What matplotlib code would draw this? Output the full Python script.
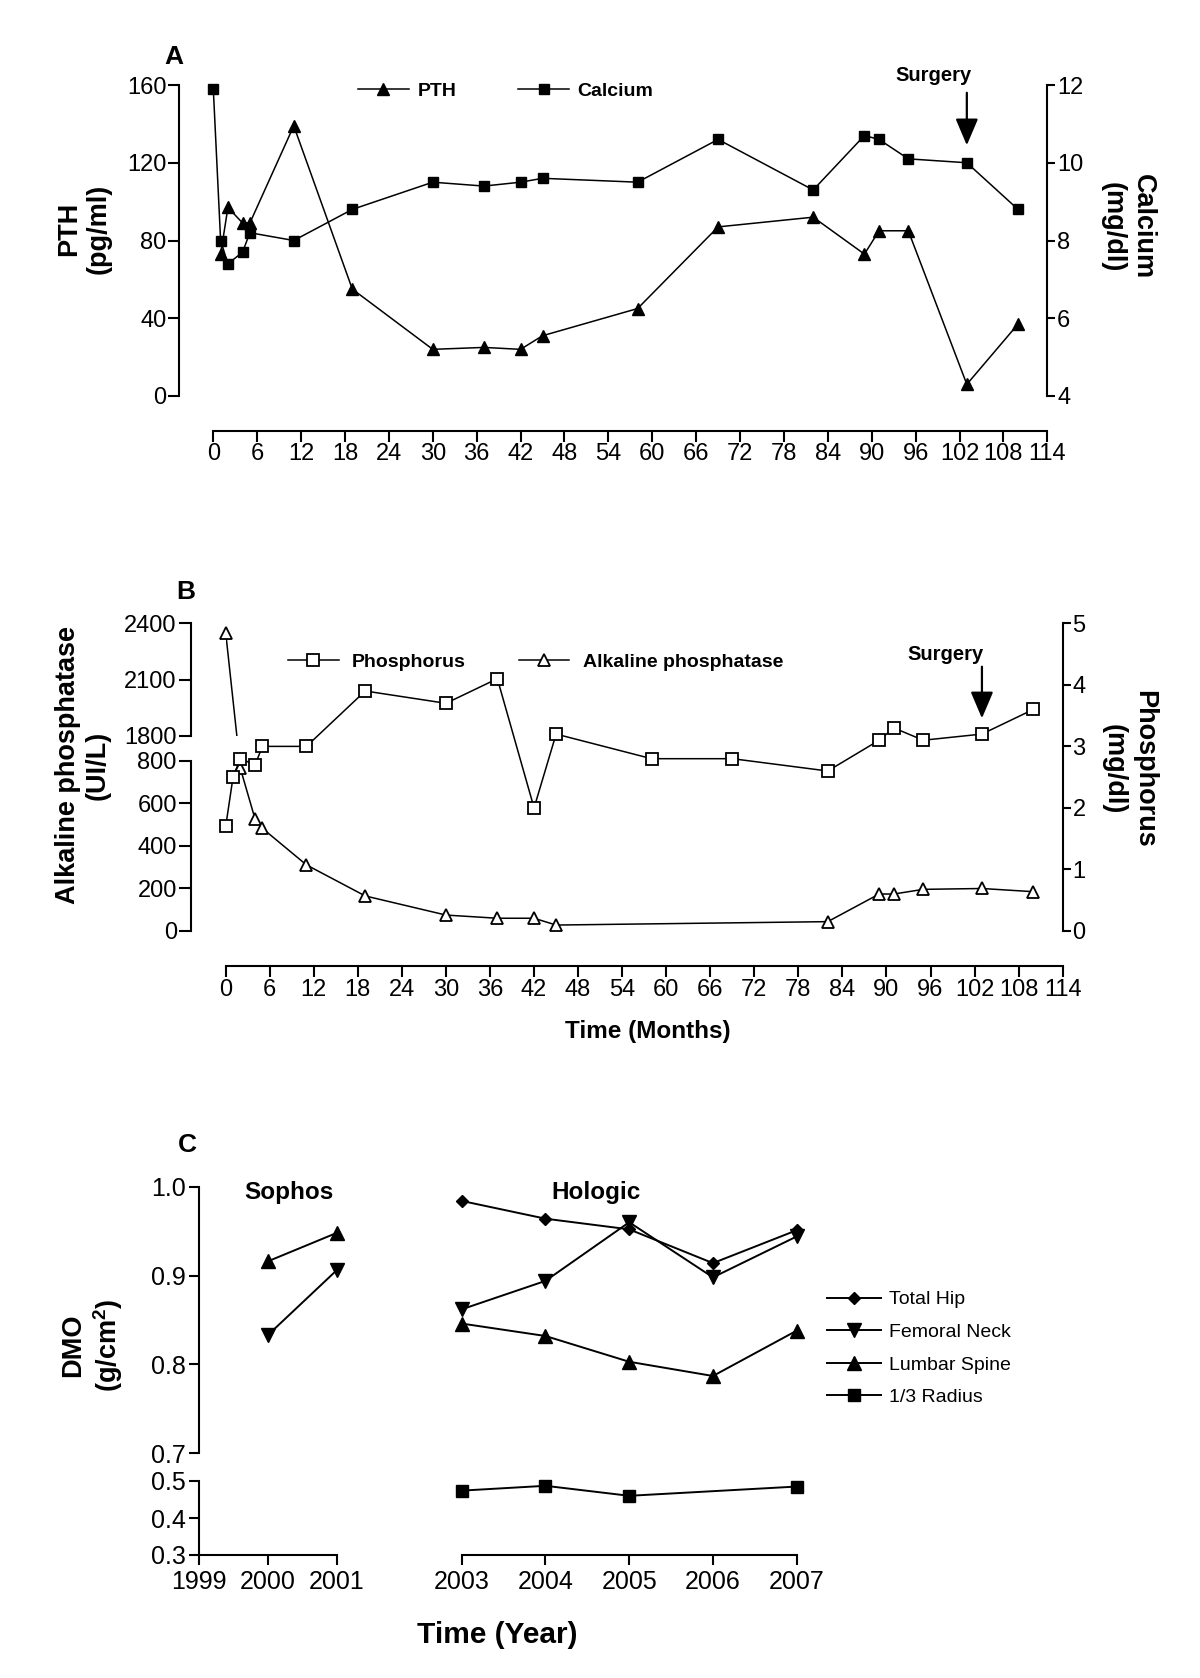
import matplotlib
matplotlib.use('Agg')
import matplotlib.pyplot as plt
from matplotlib.ticker import FormatStrFormatter

plt.rcParams['font.family'] = ['Liberation Sans', 'DejaVu Sans']
plt.rcParams['mathtext.fontset'] = 'custom'
plt.rcParams['mathtext.rm'] = 'Liberation Sans'
plt.rcParams['mathtext.bf'] = 'Liberation Sans:bold'

# Panel A data ------------------------------------------------------------
months_pth = [1, 2, 4, 5, 11, 19, 30, 37, 42, 45, 58, 69, 82, 89, 91, 95, 103, 110]
pth = [73, 97, 89, 89, 139, 55, 24, 25, 24, 31, 45, 87, 92, 73, 85, 85, 6, 37]
months_ca = [0, 1, 2, 4, 5, 11, 19, 30, 37, 42, 45, 58, 69, 82, 89, 91, 95, 103, 110]
calcium = [11.9, 8.0, 7.4, 7.7, 8.2, 8.0, 8.8, 9.5, 9.4, 9.5, 9.6, 9.5,
           10.6, 9.3, 10.7, 10.6, 10.1, 10.0, 8.8]

# Panel B data ------------------------------------------------------------
months_p = [0, 1, 2, 4, 5, 11, 19, 30, 37, 42, 45, 58, 69, 82, 89, 91, 95, 103, 110]
phosphorus = [1.7, 2.5, 2.8, 2.7, 3.0, 3.0, 3.9, 3.7, 4.1, 2.0, 3.2, 2.8,
              2.8, 2.6, 3.1, 3.3, 3.1, 3.2, 3.6]
months_alp = [0, 2, 4, 5, 11, 19, 30, 37, 42, 45, 82, 89, 91, 95, 103, 110]
alp = [2350, 765, 527, 483, 311, 165, 75, 60, 60, 28, 44, 174, 174, 196, 200, 185]

surgery_month = 103
month_ticks = list(range(0, 115, 6))

# Panel C data ------------------------------------------------------------
years_sophos = [2000, 2001]
sophos_lumbar = [0.916, 0.948]
sophos_femoral = [0.833, 0.906]
years_hologic = [2003, 2004, 2005, 2006, 2007]
total_hip = [0.984, 0.964, 0.952, 0.914, 0.951]
femoral_neck = [0.862, 0.894, 0.960, 0.898, 0.944]
lumbar_spine = [0.846, 0.832, 0.803, 0.787, 0.838]
years_radius = [2003, 2004, 2005, 2007]
radius = [0.474, 0.487, 0.460, 0.485]

W, H = 1200, 1678
fig = plt.figure(figsize=(W / 100, H / 100), dpi=100)


def box(x0, y0, x1, y1):
    # pixel box (top-left origin) -> figure fraction rect
    return [x0 / W, 1 - y1 / H, (x1 - x0) / W, (y1 - y0) / H]


def only(ax, *names):
    for k, s in ax.spines.items():
        s.set_visible(k in names)
        s.set_linewidth(1.5)


LW = 1.1
TICK = 17
tick_kw = dict(direction='out', width=1.5, colors='k')

# ---------------------------------------------------------------- Panel A
axA = fig.add_axes(box(213.3, 85, 1047.3, 396))
axA.plot(months_pth, pth, color='k', lw=LW, marker='^', ms=8.5, clip_on=False,
         label='PTH')
axA.set_xlim(0, 114)
axA.set_ylim(0, 160)
axA.set_xticks(month_ticks)
axA.set_yticks([0, 40, 80, 120, 160])
only(axA, 'left', 'bottom')
axA.spines['left'].set_position(('outward', 24.5))
axA.spines['bottom'].set_position(('outward', 25))
axA.tick_params(axis='both', length=8, labelsize=TICK, pad=1.2, **tick_kw)

axA2 = axA.twinx()
axA2.plot(months_ca, calcium, color='k', lw=LW, marker='s', ms=7.5, clip_on=False,
          label='Calcium')
axA2.set_ylim(4, 12)
axA2.set_yticks([4, 6, 8, 10, 12])
only(axA2, 'right')
axA2.tick_params(axis='y', length=6, labelsize=TICK, pad=1, **tick_kw)

hA = [axA.get_lines()[0], axA2.get_lines()[0]]
fig.legend(hA, [h.get_label() for h in hA], loc='center left',
           bbox_to_anchor=(358 / W, 1 - 90.7 / H), ncol=2, frameon=False,
           prop=dict(weight='bold', size=14), handlelength=2.6, handletextpad=0.45,
           columnspacing=3.2, borderpad=0, borderaxespad=0)

arrow_kw = dict(arrowstyle='-|>,head_length=0.4,head_width=0.17', mutation_scale=41,
                lw=1.6, color='k', shrinkA=0, shrinkB=0)
axA.annotate('', xy=(surgery_month, 129), xytext=(surgery_month, 156),
             arrowprops=arrow_kw, annotation_clip=False)
axA.text(98.4, 165, 'Surgery', ha='center', va='center', weight='bold',
         fontsize=14.5, clip_on=False)

fig.text(84 / W, 1 - 229 / H, 'PTH\n(pg/ml)', rotation=90, ha='center', va='center',
         fontsize=19.5, weight='bold', multialignment='center')
fig.text(1128 / W, 1 - 227 / H, 'Calcium\n(mg/dl)', rotation=270, ha='center',
         va='center', fontsize=19.5, weight='bold', multialignment='center')
fig.text(174 / W, 1 - 57.5 / H, 'A', ha='center', va='center', fontsize=19,
         weight='bold')

# ---------------------------------------------------------------- Panel B
axLow = fig.add_axes(box(225.7, 761, 1062.7, 931))
axHigh = fig.add_axes(box(225.7, 623.3, 1062.7, 735.7))
for ax, lim, ticks in [(axLow, (0, 800), [0, 200, 400, 600, 800]),
                       (axHigh, (1800, 2400), [1800, 2100, 2400])]:
    ax.set_xlim(0, 114)
    ax.set_ylim(*lim)
    ax.set_yticks(ticks)
    ax.set_xticks([])
    ax.patch.set_visible(False)
    only(ax, 'left')
    ax.spines['left'].set_position(('outward', 25))
    ax.tick_params(axis='y', length=9, labelsize=TICK, pad=1.2, **tick_kw)


def remap(src, dst, x, y):
    return dst.transData.inverted().transform(src.transData.transform((x, y)))


# the first alkaline phosphatase value sits on the upper segment of the broken axis
x1, y1 = remap(axLow, axHigh, months_alp[1], alp[1])
axHigh.plot([months_alp[0], x1], [alp[0], y1], color='k', lw=LW)
axHigh.plot(months_alp[:1], alp[:1], ls='none', marker='^', ms=8.5, mfc='white',
            mec='k', mew=1.3, clip_on=False)
x0, y0 = remap(axHigh, axLow, months_alp[0], alp[0])
axLow.plot([x0] + months_alp[1:], [y0] + alp[1:], color='k', lw=LW)
axLow.plot(months_alp[1:], alp[1:], ls='none', marker='^', ms=8.5, mfc='white',
           mec='k', mew=1.3, clip_on=False)
alp_handle = plt.Line2D([], [], color='k', lw=LW, marker='^', ms=8.5, mfc='white',
                        mec='k', mew=1.3)

axP = fig.add_axes(box(225.7, 623.3, 1062.7, 931))
axP.patch.set_visible(False)
pline, = axP.plot(months_p, phosphorus, color='k', lw=LW, marker='s', ms=8,
                  mfc='white', mec='k', mew=1.3, clip_on=False)
axP.set_xlim(0, 114)
axP.set_ylim(0, 5)
axP.set_xticks(month_ticks)
axP.set_yticks([0, 1, 2, 3, 4, 5])
axP.yaxis.tick_right()
only(axP, 'right', 'bottom')
axP.spines['bottom'].set_position(('outward', 25.2))
axP.tick_params(axis='x', length=8, labelsize=TICK, pad=1.2, **tick_kw)
axP.tick_params(axis='y', length=6, labelsize=TICK, pad=1, **tick_kw)

fig.legend([pline, alp_handle], ['Phosphorus', 'Alkaline phosphatase'],
           loc='center left', bbox_to_anchor=(288 / W, 1 - 661.7 / H), ncol=2,
           frameon=False, prop=dict(weight='bold', size=14), handlelength=2.6,
           handletextpad=0.7, columnspacing=2.7, borderpad=0, borderaxespad=0)

axP.annotate('', xy=(surgery_month, 3.456), xytext=(surgery_month, 4.295),
             arrowprops=arrow_kw, annotation_clip=False)
axP.text(98.1, 4.485, 'Surgery', ha='center', va='center', weight='bold',
         fontsize=14.5, clip_on=False)

fig.text(83 / W, 1 - 765 / H, 'Alkaline phosphatase\n(UI/L)', rotation=90,
         ha='center', va='center', fontsize=19.5, weight='bold',
         multialignment='center')
fig.text(1129 / W, 1 - 769 / H, 'Phosphorus\n(mg/dl)', rotation=270, ha='center',
         va='center', fontsize=19.5, weight='bold', multialignment='center')
fig.text(647.5 / W, 1 - 1031.7 / H, 'Time (Months)', ha='center', va='center',
         fontsize=17.5, weight='bold')
fig.text(186 / W, 1 - 592 / H, 'B', ha='center', va='center', fontsize=19,
         weight='bold')

# ---------------------------------------------------------------- Panel C
axUL = fig.add_axes(box(199, 1186.7, 336.7, 1453.3))
axLL = fig.add_axes(box(199, 1481, 336.7, 1555))
axUR = fig.add_axes(box(461.7, 1186.7, 796.7, 1453.3))
axLR = fig.add_axes(box(461.7, 1481, 796.7, 1555))
for ax in (axUL, axLL):
    ax.set_xlim(1999, 2001)
for ax in (axUR, axLR):
    ax.set_xlim(2003, 2007)
for ax in (axUL, axUR):
    ax.set_ylim(0.7, 1.0)
for ax in (axLL, axLR):
    ax.set_ylim(0.3, 0.5)
for ax in (axUL, axLL, axUR, axLR):
    ax.patch.set_visible(False)

mk = dict(color='k', lw=1.4, clip_on=False)
axUL.plot(years_sophos, sophos_lumbar, marker='^', ms=9.5, **mk)
axUL.plot(years_sophos, sophos_femoral, marker='v', ms=9.5, **mk)
h_hip, = axUR.plot(years_hologic, total_hip, marker='D', ms=6.5, **mk)
h_neck, = axUR.plot(years_hologic, femoral_neck, marker='v', ms=9.5, **mk)
h_lum, = axUR.plot(years_hologic, lumbar_spine, marker='^', ms=9.5, **mk)
h_rad, = axLR.plot(years_radius, radius, marker='s', ms=8.5, **mk)

c_tick = dict(length=7.5, labelsize=18, **tick_kw)
only(axUL, 'left')
axUL.set_xticks([])
axUL.set_yticks([0.7, 0.8, 0.9, 1.0])
axUL.set_yticks([0.7], minor=True)
axUL.yaxis.set_major_formatter(FormatStrFormatter('%.1f'))
axUL.tick_params(axis='y', pad=2, **c_tick)
axUL.tick_params(axis='y', which='minor', direction='in', length=5, width=1.5)

only(axLL, 'left', 'bottom')
axLL.set_yticks([0.3, 0.4, 0.5])
axLL.set_yticks([0.5], minor=True)
axLL.set_xticks([1999, 2000, 2001])
axLL.set_xticks([2001], minor=True)
axLL.xaxis.set_major_formatter(FormatStrFormatter('%d'))
axLL.yaxis.set_major_formatter(FormatStrFormatter('%.1f'))
axLL.tick_params(axis='y', pad=2, **c_tick)
axLL.tick_params(axis='x', pad=3, **c_tick)
axLL.tick_params(which='minor', direction='in', length=5, width=1.5)

only(axUR)
axUR.set_xticks([])
axUR.set_yticks([])

only(axLR, 'bottom')
axLR.set_yticks([])
axLR.set_xticks(years_hologic)
axLR.set_xticks([2003], minor=True)
axLR.xaxis.set_major_formatter(FormatStrFormatter('%d'))
axLR.tick_params(axis='x', pad=3, **c_tick)
axLR.tick_params(axis='x', which='minor', direction='in', length=5, width=1.5)

axUL.text(2000.3, 0.993, 'Sophos', ha='center', va='center', weight='bold',
          fontsize=17.5, clip_on=False)
axUR.text(2004.6, 0.993, 'Hologic', ha='center', va='center', weight='bold',
          fontsize=17.5, clip_on=False)

fig.legend([h_hip, h_neck, h_lum, h_rad],
           ['Total Hip', 'Femoral Neck', 'Lumbar Spine', '1/3 Radius'],
           loc='center left', bbox_to_anchor=(827 / W, 1 - 1348.5 / H),
           frameon=False, fontsize=14, handlelength=2.8, handletextpad=0.4,
           labelspacing=0.77, borderpad=0, borderaxespad=0)

fig.text(93 / W, 1 - 1345 / H, 'DMO\n(g/cm$^{\\mathbf{2}}$)', rotation=90,
         ha='center', va='center', fontsize=19.5, weight='bold',
         multialignment='center')
fig.text(497 / W, 1 - 1635 / H, 'Time (Year)', ha='center', va='center',
         fontsize=21.5, weight='bold')
fig.text(187 / W, 1 - 1145 / H, 'C', ha='center', va='center', fontsize=19,
         weight='bold')

fig.savefig('out.png', dpi=100, facecolor='white')
